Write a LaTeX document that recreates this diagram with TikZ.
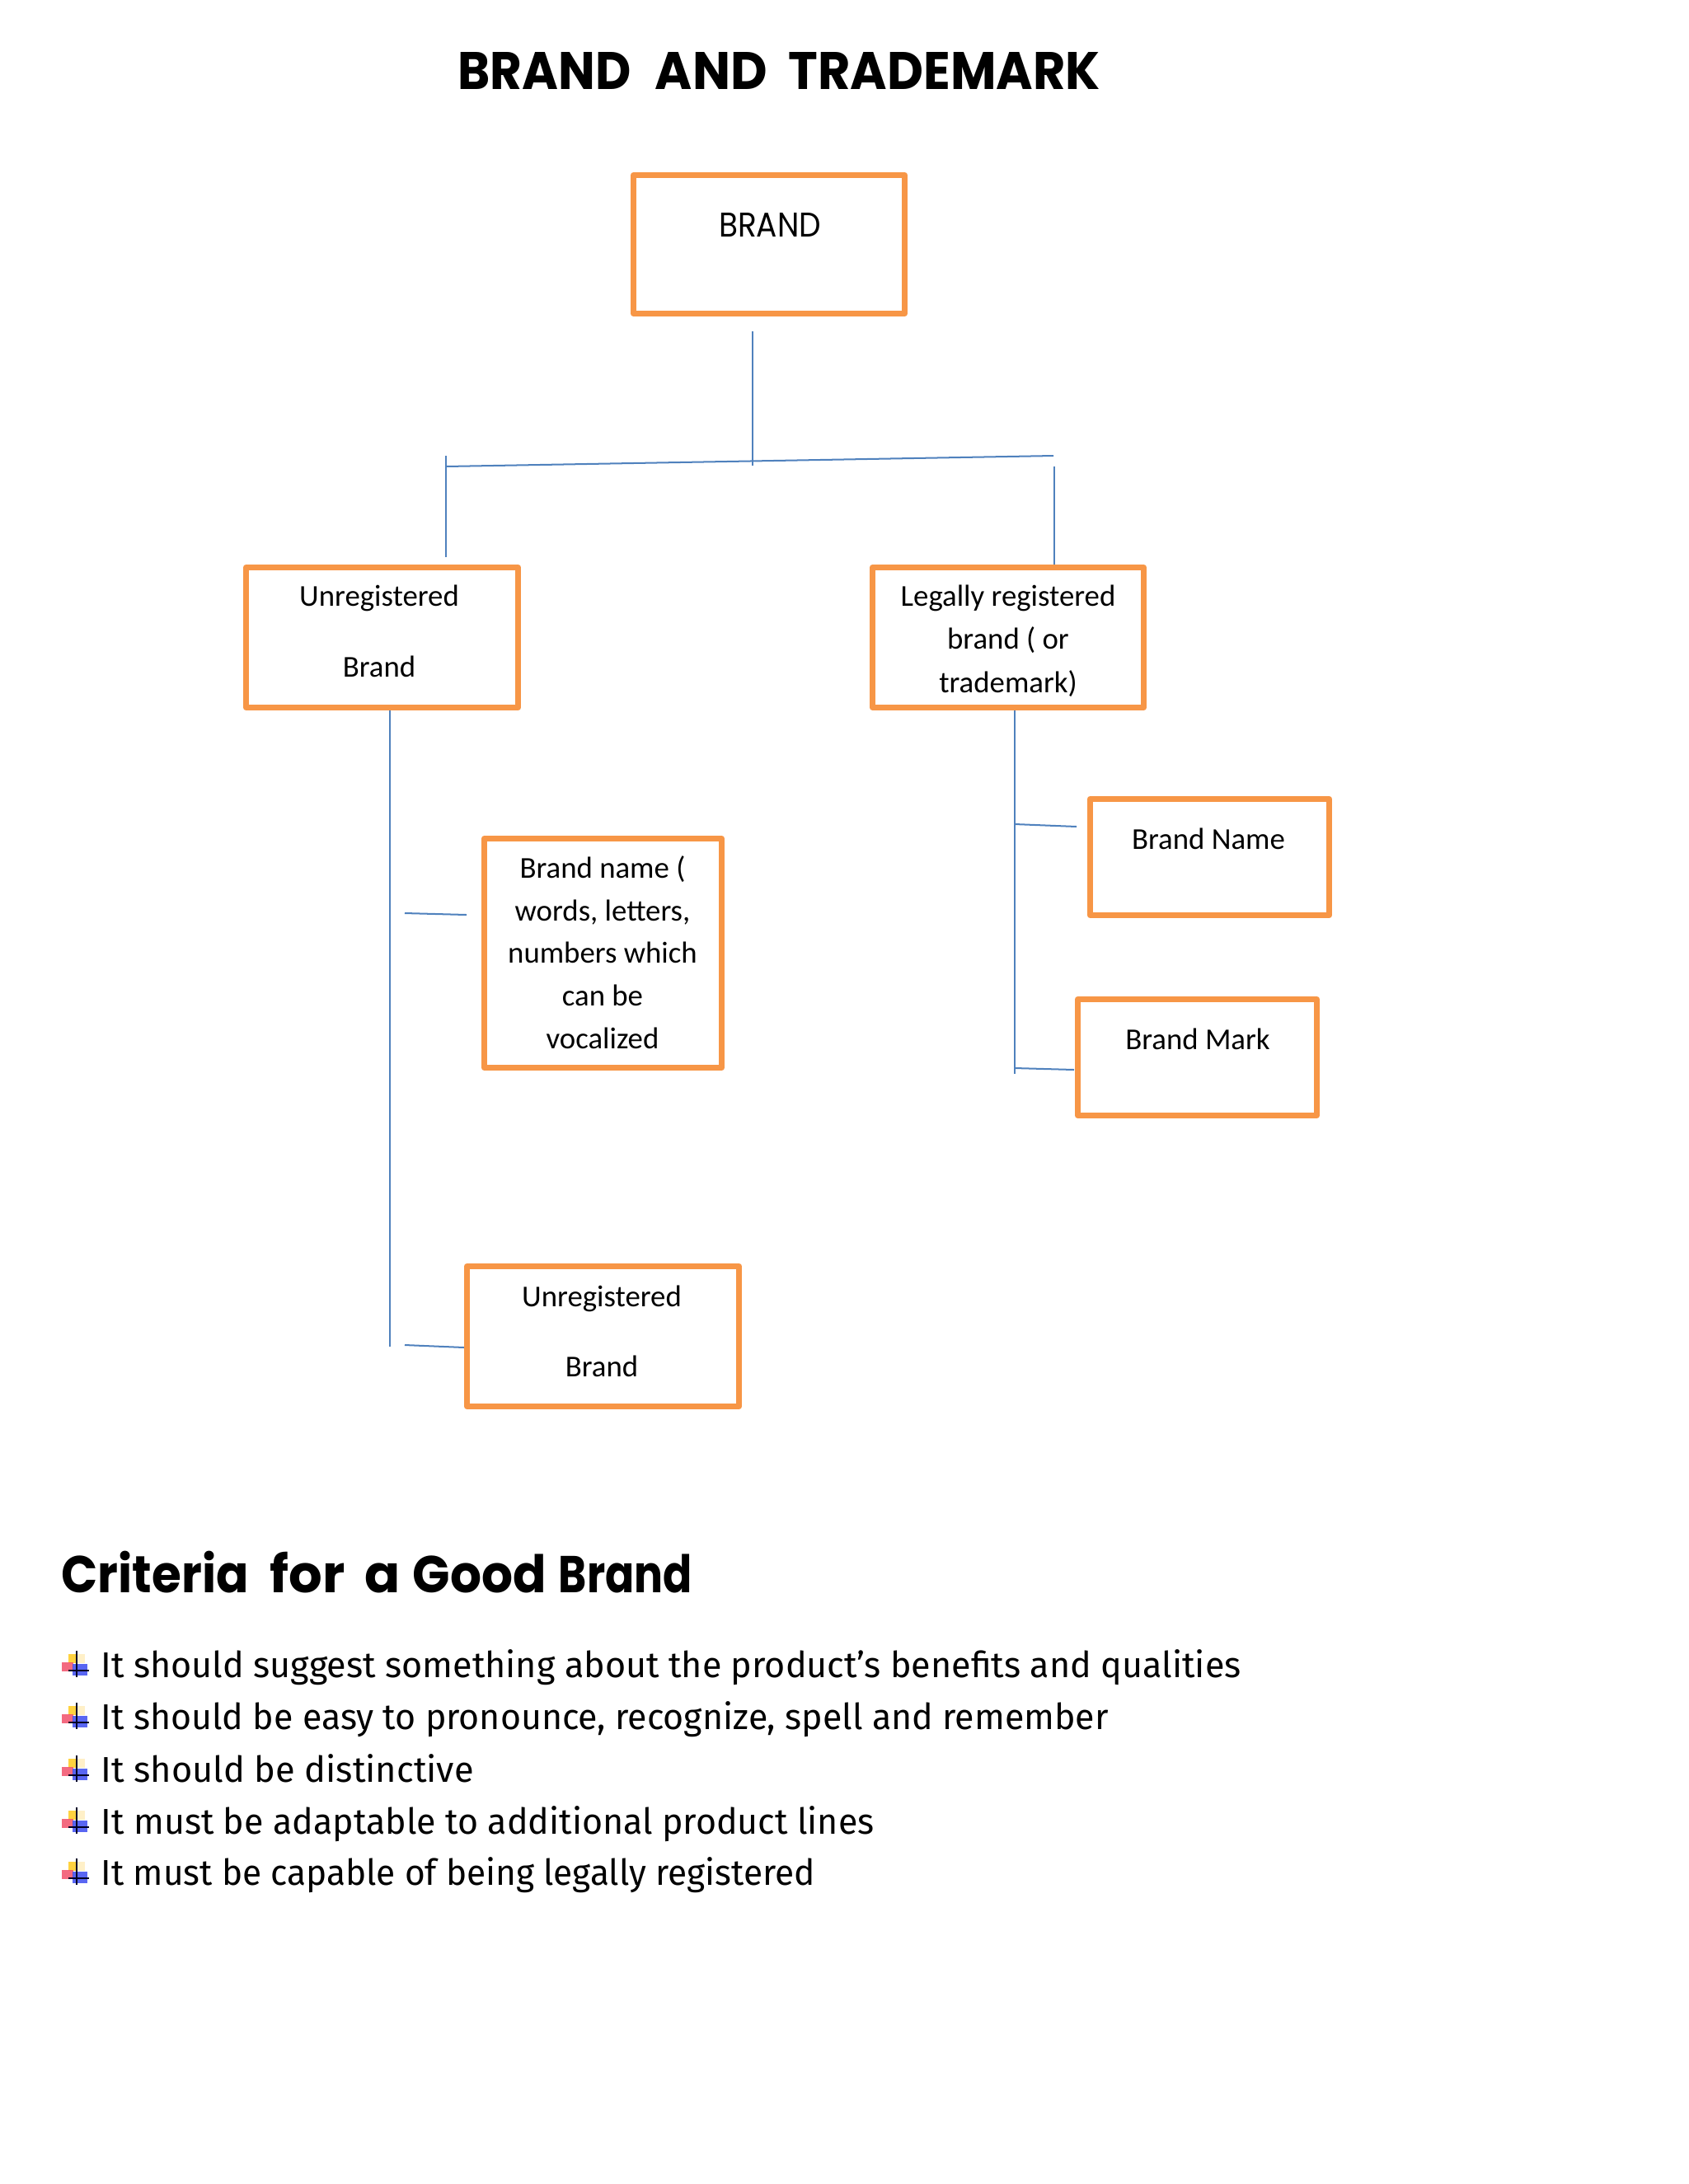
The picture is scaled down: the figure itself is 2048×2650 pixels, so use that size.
\documentclass[tikz,border=0pt]{standalone}
\usepackage{fontspec}
\usepackage{graphicx}
\setmainfont{Carlito}
\newfontfamily\comicf{Poppins}
\newfontfamily\handf{Fira Sans}
\definecolor{boxor}{HTML}{F79646}
\definecolor{lnblue}{HTML}{4F81BD}
\definecolor{icyel}{HTML}{FFD23F}
\definecolor{icpale}{HTML}{FFF0C8}
\definecolor{icred}{HTML}{F2506A}
\definecolor{icblue}{HTML}{3C4CF0}
\def\px{0.29886pt}
\newcommand\bulicon[1]{%
  \fill[icyel] (83,#1-28) rectangle (93,#1-17);
  \fill[icpale] (93,#1-28) rectangle (103,#1-17);
  \fill[icred, opacity=0.85] (75,#1-18) rectangle (89,#1-7);
  \fill[icblue, opacity=0.85] (88,#1-16) rectangle (106,#1-2);
  \draw[line width=0.6pt, black!85!blue] (93,#1-32) -- (93,#1);
  \draw[line width=0.6pt, black!85!blue] (83,#1-8) -- (108,#1-8);
}
\newcommand\tw[2]{\resizebox{#1}{13.45pt}{\comicf\bfseries #2}}
\newcommand\cw[2]{\resizebox{#1}{\height}{\comicf\bfseries\fontsize{18.8}{22}\selectfont #2}}
\begin{document}
\begin{tikzpicture}[x=0.29886pt,y=-0.29886pt,
  obox/.style={draw=boxor, line width=2.1pt, fill=white, inner sep=0pt, rectangle, line join=round},
  conn/.style={draw=lnblue, line width=0.6pt},
  btxt/.style={font=\fontsize{11}{13}\selectfont, anchor=base, inner sep=0pt},
  ltxt/.style={anchor=base west, inner sep=0pt}]
\useasboundingbox[fill=white] (0,0) rectangle (2048,2650);

% connector end points
\coordinate (s1) at (913,402);  \coordinate (s2) at (913,565);
\coordinate (bl) at (541,566);  \coordinate (br) at (1278,553);
\coordinate (ld1) at (541,553); \coordinate (ld2) at (541,676);
\coordinate (rd1) at (1279,566); \coordinate (rd2) at (1279,685);
\coordinate (ll1) at (473,862); \coordinate (ll2) at (473,1634);
\coordinate (t1a) at (491,1108); \coordinate (t1b) at (566,1110);
\coordinate (t2a) at (491,1632); \coordinate (t2b) at (563,1635);
\coordinate (rl1) at (1231,862); \coordinate (rl2) at (1231,1303);
\coordinate (t3a) at (1231,1000); \coordinate (t3b) at (1306,1003);
\coordinate (t4a) at (1231,1296); \coordinate (t4b) at (1303,1298);

\draw[conn] (s1) -- (s2);
\draw[conn] (bl) -- (br);
\draw[conn] (ld1) -- (ld2);
\draw[conn] (rd1) -- (rd2);
\draw[conn] (ll1) -- (ll2);
\draw[conn] (t1a) -- (t1b);
\draw[conn] (t2a) -- (t2b);
\draw[conn] (rl1) -- (rl2);
\draw[conn] (t3a) -- (t3b);
\draw[conn] (t4a) -- (t4b);

% boxes
\node[obox, minimum width=329*\px, minimum height=168*\px] (brand) at (933,296.5) {};
\node[obox, minimum width=330*\px, minimum height=170*\px] (unreg) at (463.5,773.5) {};
\node[obox, minimum width=329*\px, minimum height=170*\px] (legal) at (1223,773.5) {};
\node[obox, minimum width=288*\px, minimum height=278*\px] (bname) at (731.5,1156.5) {};
\node[obox, minimum width=330*\px, minimum height=170*\px] (unregb) at (731.5,1621.5) {};
\node[obox, minimum width=290*\px, minimum height=141*\px] (brandname) at (1467.5,1040) {};
\node[obox, minimum width=290*\px, minimum height=141*\px] (brandmark) at (1452.5,1283) {};

% title
\node[ltxt] (title) at (555,108) {\tw{62.8pt}{BRAND}\hspace{8.67pt}\tw{40.6pt}{AND}\hspace{7.8pt}\tw{113pt}{TRADEMARK}};

% box texts
\node[anchor=base, inner sep=0pt] (brandt) at (934,287) {\resizebox{37pt}{8.67pt}{\comicf BRAND}};
\node[btxt] (u1) at (460,735) {Unregistered};
\node[btxt] (u2) at (460,821) {Brand};
\node[btxt] (l1) at (1223,735) {Legally registered};
\node[btxt] (l2) at (1223,787) {brand ( or};
\node[btxt] (l3) at (1223,840) {trademark)};
\node[btxt] (n1) at (731,1065) {Brand name (};
\node[btxt] (n2) at (731,1117) {words, letters,};
\node[btxt] (n3) at (731,1168) {numbers which};
\node[btxt] (n4) at (731,1220) {can be};
\node[btxt] (n5) at (731,1272) {vocalized};
\node[btxt] (v1) at (730,1585) {Unregistered};
\node[btxt] (v2) at (730,1670) {Brand};
\node[btxt] (bn) at (1466,1030) {Brand Name};
\node[btxt] (bm) at (1453,1273) {Brand Mark};

% criteria
\node[ltxt] (crit) at (74,1932) {\cw{67.8pt}{Criteria}\hspace{7.8pt}\cw{27.2pt}{for}\hspace{7.2pt}\cw{12.9pt}{a}\hspace{4.5pt}\cw{48.4pt}{Good}\hspace{4.5pt}\cw{48.4pt}{Brand}};

\bulicon{2035}
\bulicon{2098}
\bulicon{2162}
\bulicon{2225}
\bulicon{2287}
\node[ltxt] (c1) at (122,2035) {\resizebox{413.3pt}{\height}{\handf\fontsize{13}{15}\selectfont It should suggest something about the product’s benefits and qualities}};
\node[ltxt] (c2) at (122,2098) {\resizebox{365.2pt}{\height}{\handf\fontsize{13}{15}\selectfont It should be easy to pronounce, recognize, spell and remember}};
\node[ltxt] (c3) at (122,2162) {\resizebox{135.1pt}{\height}{\handf\fontsize{13}{15}\selectfont It should be distinctive}};
\node[ltxt] (c4) at (122,2225) {\resizebox{280.3pt}{\height}{\handf\fontsize{13}{15}\selectfont It must be adaptable to additional product lines}};
\node[ltxt] (c5) at (122,2287) {\resizebox{258.8pt}{\height}{\handf\fontsize{13}{15}\selectfont It must be capable of being legally registered}};
\end{tikzpicture}
\end{document}
